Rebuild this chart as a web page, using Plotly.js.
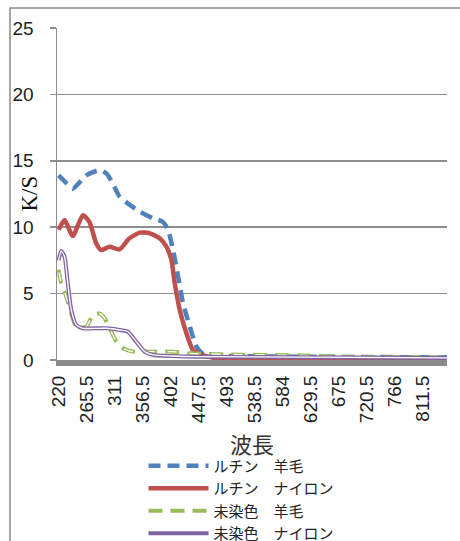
<!DOCTYPE html>
<html>
<head>
<meta charset="utf-8">
<script src="https://cdn.plot.ly/plotly-3.0.1.min.js"></script>
<style>html,body{margin:0;padding:0;background:#fff;}#chart{width:460px;height:541px;}</style>
</head>
<body>
<div id="chart"></div>
<script>
// ルチン 羊毛
const woolRutinX = [220, 231, 243, 265, 286.6, 297.5, 308, 319, 335, 351.6, 373, 389.5, 397.6, 405.7, 413.9, 422, 433, 443.8, 457, 498, 611, 850];
const woolRutinY = [13.9, 13.4, 12.9, 13.9, 14.3, 14.05, 13.3, 12.3, 11.7, 11.17, 10.67, 10.4, 9.8, 8.3, 6.3, 4.27, 2.5, 1.0, 0.35, 0.3, 0.25, 0.2];
// ルチン ナイロン
const nylonRutinX = [220, 229.75, 243, 259.5, 270, 281, 289, 302.9, 319, 335, 351.6, 368, 384, 395, 403, 408.5, 416.6, 427.5, 438, 449, 473, 850];
const nylonRutinY = [9.8, 10.54, 9.34, 10.9, 10.4, 8.8, 8.28, 8.53, 8.33, 9.16, 9.59, 9.54, 9.16, 8.53, 7.53, 5.77, 3.77, 2.0, 0.75, 0.45, 0.15, 0.1];
// 未染色 羊毛
const woolUndyedX = [220, 224.4, 232.5, 240.6, 248.8, 265, 275.7, 286.6, 294.75, 305.6, 313.8, 324.5, 340.7, 368, 405.7, 433, 514, 611.6, 676.6, 850];
const woolUndyedY = [6.8, 5.77, 4.77, 3.5, 2.5, 2.5, 3.39, 3.5, 3.14, 2.13, 1.38, 0.88, 0.63, 0.63, 0.63, 0.5, 0.4, 0.35, 0.25, 0.2];
// 未染色 ナイロン
const nylonUndyedX = [220, 224.4, 229.75, 235, 240.6, 248.8, 259.5, 297.5, 319, 332.6, 346, 359.75, 373, 405.7, 443.8, 850];
const nylonUndyedY = [7.5, 8.2, 7.78, 5.77, 3.77, 2.64, 2.39, 2.39, 2.26, 2.13, 1.38, 0.63, 0.38, 0.3, 0.25, 0.16];

const xTicks = [220, 265.5, 311, 356.5, 402, 447.5, 493, 538.5, 584, 629.5, 675, 720.5, 766, 811.5];
const seriesNames = ['ルチン\u3000羊毛', 'ルチン\u3000ナイロン', '未染色\u3000羊毛', '未染色\u3000ナイロン'];

const sp = {shape: 'spline', smoothing: 0.6};
const traces = [
  {x: woolRutinX, y: woolRutinY, name: seriesNames[0], mode: 'lines', legendgroup: 'a',
   line: Object.assign({color: '#4F81BD', width: 4.5, dash: '12px,7px'}, sp)},
  {x: nylonRutinX, y: nylonRutinY, name: seriesNames[1], mode: 'lines', legendgroup: 'b',
   line: Object.assign({color: '#C0504D', width: 4.5}, sp)},
  {x: woolUndyedX, y: woolUndyedY, name: seriesNames[2], mode: 'lines', legendgroup: 'c',
   line: Object.assign({color: '#9BBB59', width: 4, dash: '14px,8px'}, sp)},
  {x: woolUndyedX, y: woolUndyedY, name: seriesNames[2], mode: 'lines', legendgroup: 'c', showlegend: false, hoverinfo: 'skip',
   line: Object.assign({color: '#ffffff', width: 1.4, dash: '0px,2.5px,9px,10.5px'}, sp)},
  {x: nylonUndyedX, y: nylonUndyedY, name: seriesNames[3], mode: 'lines', legendgroup: 'd',
   line: Object.assign({color: '#8064A2', width: 4}, sp)},
  {x: nylonUndyedX, y: nylonUndyedY, name: seriesNames[3], mode: 'lines', legendgroup: 'd', showlegend: false, hoverinfo: 'skip',
   line: Object.assign({color: '#ffffff', width: 1.3}, sp)}
];

const layout = {
  width: 460, height: 541,
  margin: {l: 57, r: 13, t: 28, b: 181, autoexpand: false},
  paper_bgcolor: '#ffffff', plot_bgcolor: '#ffffff',
  font: {family: 'Liberation Sans, Arial, sans-serif', color: '#222'},
  showlegend: true,
  xaxis: {
    automargin: false,
    range: [217.5, 850], tickvals: xTicks, ticktext: xTicks.map(String),
    tickangle: -90, showgrid: false, zeroline: false,
    showline: true, linecolor: '#8a8a8a', linewidth: 6,
    ticks: '', tickfont: {size: 19, family: 'Liberation Sans, Arial, sans-serif', color: '#222'},
    ticklabelstandoff: 2,
    title: {text: '波長', font: {size: 22, family: 'Noto Sans CJK JP, sans-serif', color: '#333'}, standoff: 17}
  },
  yaxis: {
    automargin: false,
    range: [0, 25], dtick: 5, tick0: 0,
    showgrid: true, gridcolor: '#8e8e8e', gridwidth: 1.5, zeroline: false,
    showline: true, linecolor: '#8e8e8e', linewidth: 1.5,
    ticks: 'outside', ticklen: 6, tickcolor: '#8e8e8e', tickwidth: 1.5,
    tickfont: {size: 19, family: 'Liberation Sans, Arial, sans-serif', color: '#222'},
    ticklabelstandoff: 12
  },
  legend: {
    xref: 'container', yref: 'container',
    x: 0.312, xanchor: 'left', y: 0.169, yanchor: 'top',
    bgcolor: 'rgba(0,0,0,0)', borderwidth: 0, itemwidth: 60, tracegroupgap: 0,
    font: {size: 15, family: 'Noto Sans CJK JP, sans-serif', color: '#222'}
  },
  annotations: [
    {text: 'K/S', xref: 'paper', yref: 'paper', x: -0.073, y: 0.5, xanchor: 'center', yanchor: 'middle',
     showarrow: false, textangle: -90,
     font: {family: 'Liberation Serif, serif', size: 23, color: '#111'}}
  ],
  shapes: [
    {type: 'rect', xref: 'paper', yref: 'paper', x0: -0.1205, x1: 1.06, y0: -0.62, y1: 1.0602,
     line: {color: '#8a8a8a', width: 1.5}, fillcolor: 'rgba(0,0,0,0)'}
  ]
};

Plotly.newPlot('chart', traces, layout, {displayModeBar: false, staticPlot: true});
</script>
</body>
</html>
